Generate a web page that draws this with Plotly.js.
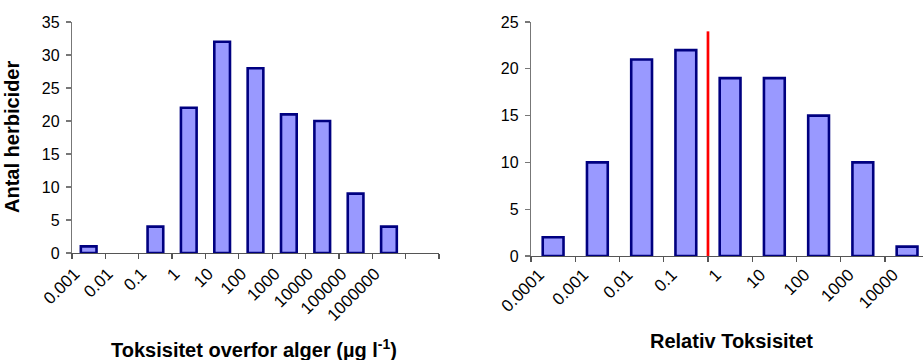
<!DOCTYPE html>
<html>
<head>
<meta charset="utf-8">
<script src="https://cdn.plot.ly/plotly-3.0.1.min.js"></script>
<style>
  html, body { margin: 0; padding: 0; background: #fff; }
  #chart { width: 923px; height: 360px; }
</style>
</head>
<body>
<div id="chart"></div>
<script>
// Toxicity classes (log10 steps) and number of herbicides in each
const algaeCategories = ["0.001", "0.01", "0.1", "1", "10", "100", "1000", "10000", "100000", "1000000"];
const algaeCounts = [1, null, 4, 22, 32, 28, 21, 20, 9, 4];
const algaeSlots = algaeCategories.concat(["\u00a0"]);   // one empty slot at the right end

const relCategories = ["0.0001", "0.001", "0.01", "0.1", "1", "10", "100", "1000", "10000"];
const relCounts = [2, 10, 21, 22, 19, 19, 15, 10, 1];

// Reference marker between the 0.1 and 1 classes, and its height
const refPosition = 3.5;
const refTop = 24;

const barFill = "#9999FF";
const barEdge = "#000080";
const W = 923, H = 360;

const traces = [
  {
    type: "bar", x: algaeCategories, y: algaeCounts,
    xaxis: "x", yaxis: "y",
    marker: { color: barFill, line: { color: barEdge, width: 2.6 } },
    hoverinfo: "x+y", showlegend: false
  },
  {
    type: "bar", x: relCategories, y: relCounts,
    xaxis: "x2", yaxis: "y2",
    marker: { color: barFill, line: { color: barEdge, width: 2.6 } },
    hoverinfo: "x+y", showlegend: false
  }
];

const FAMILY = "Arial, 'Liberation Sans', sans-serif";
const xTickFont = { family: FAMILY, size: 17, color: "#000" };
const yTickFont = { family: FAMILY, size: 16, color: "#000" };
const titleFont = { family: FAMILY, size: 20, color: "#000", weight: "bold" };

function xAxis(domain, cats, range, anchor, standoff) {
  return {
    type: "category", categoryorder: "array", categoryarray: cats,
    domain: domain, range: range, anchor: anchor,
    showgrid: false, zeroline: false,
    showline: true, linecolor: "#555", linewidth: 1.2,
    ticks: "outside", tickson: "boundaries", ticklen: 5, tickcolor: "#555", tickwidth: 1.2,
    tickangle: -45, tickfont: xTickFont,
    ticklabelshift: -14, ticklabelstandoff: standoff,
    fixedrange: true
  };
}
function yAxis(domain, max, anchor) {
  return {
    domain: domain, range: [0, max], anchor: anchor,
    dtick: 5, tick0: 0,
    showgrid: false, zeroline: false,
    showline: true, linecolor: "#777", linewidth: 1.2,
    ticks: "outside", ticklen: 5, tickcolor: "#777", tickwidth: 1.2,
    tickfont: yTickFont, ticklabelstandoff: 3, fixedrange: true
  };
}

const layout = {
  width: W, height: H,
  margin: { l: 0, r: 0, t: 0, b: 0 },
  paper_bgcolor: "#fff", plot_bgcolor: "#fff",
  bargap: 0.53,
  xaxis: xAxis([72 / W, 439 / W], algaeSlots, [-0.5, 10.5], "y", 3),
  yaxis: yAxis([(H - 253) / H, (H - 22) / H], 35, "x"),
  xaxis2: xAxis([531 / W, 1], relCategories, [-0.5, 8.36], "y2", 1),
  yaxis2: yAxis([(H - 256) / H, (H - 22) / H], 25, "x2"),
  shapes: [
    {
      type: "line", xref: "x2", yref: "y2",
      x0: refPosition, x1: refPosition, y0: -0.3, y1: refTop,
      line: { color: "#FF0000", width: 2.7 }
    }
  ],
  annotations: [
    {
      text: "Antal herbicider", textangle: -90,
      xref: "paper", yref: "paper", x: 12 / W, y: (H - 137) / H,
      xanchor: "center", yanchor: "middle", showarrow: false, font: titleFont
    },
    {
      text: "Toksisitet overfor alger (µg l<sup>-1</sup>)",
      xref: "paper", yref: "paper", x: 254 / W, y: (H - 348) / H,
      xanchor: "center", yanchor: "middle", showarrow: false, font: titleFont
    },
    {
      text: "Relativ Toksisitet",
      xref: "paper", yref: "paper", x: 731 / W, y: (H - 341) / H,
      xanchor: "center", yanchor: "middle", showarrow: false, font: titleFont
    }
  ]
};

Plotly.newPlot("chart", traces, layout, { displayModeBar: false, staticPlot: true });
</script>
</body>
</html>
